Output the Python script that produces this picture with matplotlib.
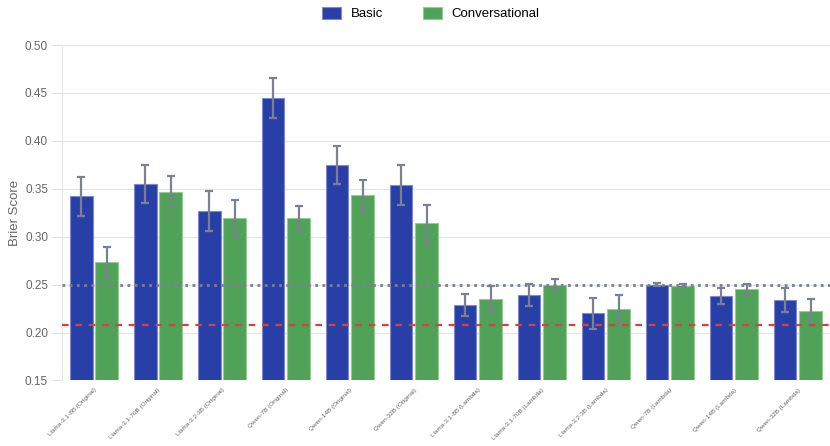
import numpy as np
import matplotlib.pyplot as plt

plt.rcParams['font.family'] = ['Liberation Sans', 'DejaVu Sans']

models = ["Llama-3.1-8B (Original)", "Llama-3.1-70B (Original)", "Llama-3.2-3B (Original)",
          "Qwen-7B (Original)", "Qwen-14B (Original)", "Qwen-32B (Original)",
          "Llama-3.1-8B (Lambda)", "Llama-3.1-70B (Lambda)", "Llama-3.2-3B (Lambda)",
          "Qwen-7B (Lambda)", "Qwen-14B (Lambda)", "Qwen-32B (Lambda)"]

basic = [0.342, 0.355, 0.327, 0.445, 0.375, 0.354,
         0.229, 0.239, 0.220, 0.250, 0.238, 0.234]
basic_err = [0.020, 0.020, 0.021, 0.021, 0.020, 0.021,
             0.0115, 0.0115, 0.0165, 0.0015, 0.008, 0.0125]
conv = [0.274, 0.347, 0.319, 0.320, 0.343, 0.314,
        0.235, 0.250, 0.225, 0.249, 0.245, 0.222]
conv_err = [0.015, 0.0165, 0.0195, 0.0125, 0.0165, 0.0195,
            0.014, 0.006, 0.014, 0.002, 0.0055, 0.0135]

baseline_025 = 0.25
baseline_red = 0.2075

x = np.arange(len(models))
w = 0.355

fig = plt.figure(figsize=(8.3, 4.46), dpi=100)
ax = fig.add_axes([0.0747, 0.147, 0.925, 0.752])

err_kw = dict(ecolor='#7b8190', elinewidth=1.6, capsize=3.2, capthick=1.6)
ax.bar(x - 0.2, basic, w, color='#283fa8', edgecolor='#7d8ad0', linewidth=0.8,
       yerr=basic_err, error_kw=err_kw, label='Basic', zorder=3)
ax.bar(x + 0.2, conv, w, color='#4fa257', edgecolor='#93cc97', linewidth=0.8,
       yerr=conv_err, error_kw=err_kw, label='Conversational', zorder=3)

ax.axhline(baseline_025, color='#7a8090', linestyle=(0, (1, 1.6)), linewidth=2.0, zorder=4)
ax.axhline(baseline_red, color='#d2443c', linestyle=(0, (3, 3)), linewidth=1.6, zorder=4)

ax.set_ylim(0.15, 0.50)
ax.set_xlim(-0.5, len(models) - 0.5)
ax.set_yticks(np.arange(0.15, 0.501, 0.05))
ax.set_yticklabels([f"{v:.2f}" for v in np.arange(0.15, 0.501, 0.05)])
ax.grid(axis='y', color='#e6e6e6', linewidth=1, zorder=0)
ax.set_axisbelow(True)
for s in ['top', 'right', 'bottom']:
    ax.spines[s].set_visible(False)
ax.spines['left'].set_color('#e6e6e6')
ax.tick_params(axis='y', colors='#e0e0e0', length=7, labelcolor='#666666', labelsize=8.5, pad=3)
ax.tick_params(axis='x', length=0, labelcolor='#666666', labelsize=4.6, pad=5)
ax.set_xticks(x)
ax.set_xticklabels(models, rotation=45, ha='right', rotation_mode='anchor')
ax.set_ylabel('Brier Score', color='#666666', fontsize=9.5, labelpad=3)

ax.legend(loc='upper center', bbox_to_anchor=(0.48, 1.15), ncol=2, frameon=False,
          fontsize=9.5, handlelength=1.5, handleheight=1.1, columnspacing=3, handletextpad=0.7)

fig.savefig('out.png', dpi=100)
